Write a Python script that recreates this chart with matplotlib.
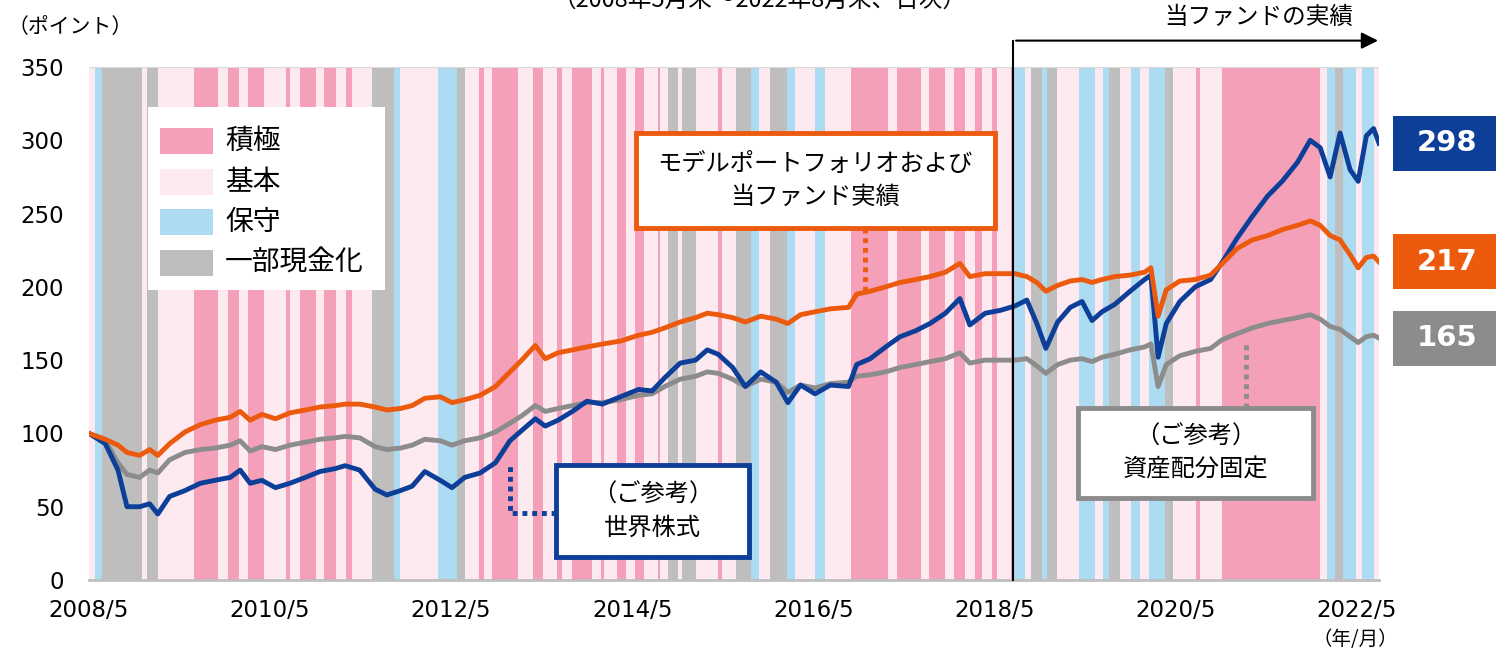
import matplotlib
matplotlib.use("Agg")
import matplotlib.pyplot as plt
from matplotlib.patches import Rectangle
import matplotlib.transforms as mtransforms

plt.rcParams['font.family'] = ['Noto Sans CJK JP', 'DejaVu Sans']

# regime bands (decimal years), one kind per segment
band_edges = [2008.41, 2008.48, 2008.55, 2008.99, 2009.05, 2009.17, 2009.57, 2009.84, 2009.95, 2010.07,
              2010.17, 2010.34, 2010.59, 2010.63, 2010.74, 2010.92, 2011.01, 2011.14, 2011.25, 2011.32,
              2011.54, 2011.78, 2011.85, 2012.27, 2012.47, 2012.56, 2012.72, 2012.77, 2012.86, 2013.15,
              2013.31, 2013.42, 2013.58, 2013.64, 2013.74, 2013.97, 2014.07, 2014.10, 2014.24, 2014.34,
              2014.44, 2014.54, 2014.69, 2014.72, 2014.81, 2014.92, 2014.96, 2015.11, 2015.36, 2015.40,
              2015.56, 2015.72, 2015.81, 2015.93, 2016.12, 2016.21, 2016.43, 2016.54, 2016.83, 2017.24,
              2017.34, 2017.60, 2017.69, 2017.87, 2017.97, 2018.09, 2018.20, 2018.27, 2018.38, 2018.44,
              2018.60, 2018.62, 2018.75, 2018.82, 2018.94, 2018.99, 2019.10, 2019.35, 2019.52, 2019.61,
              2019.68, 2019.80, 2019.92, 2020.02, 2020.12, 2020.30, 2020.38, 2020.64, 2020.68, 2020.93,
              2022.01, 2022.09, 2022.17, 2022.26, 2022.41, 2022.47, 2022.61, 2022.66]
band_kinds = ("L B G L G L P L P L "
              "P L P L P L P L P L "
              "G B L B G L P L P L "
              "P L P L P L P L P L "
              "P L P L G L G L P L "
              "G B L G B L B L P L "
              "P L P L P L P L P L "
              "P B L G B G L B L B "
              "G L B L B G L P L P "
              "L B G B L B L").split()

legend_labels = ["積極", "基本", "保守", "一部現金化"]
legend_kinds = ["P", "L", "B", "G"]
band_colors = {"P": "#F4A0B8", "L": "#FDEAF1", "B": "#ADDBF1", "G": "#BEBEBE"}

dates = [2008.41, 2008.59, 2008.73, 2008.83, 2008.97, 2009.08, 2009.17, 2009.30, 2009.47, 2009.64,
         2009.80, 2009.97, 2010.08, 2010.19, 2010.32, 2010.47, 2010.63, 2010.80, 2010.96, 2011.13,
         2011.24, 2011.40, 2011.57, 2011.70, 2011.85, 2011.98, 2012.12, 2012.29, 2012.42, 2012.56,
         2012.73, 2012.90, 2013.06, 2013.19, 2013.34, 2013.45, 2013.59, 2013.75, 2013.91, 2014.08,
         2014.28, 2014.48, 2014.63, 2014.77, 2014.94, 2015.11, 2015.24, 2015.36, 2015.52, 2015.66,
         2015.83, 2016.00, 2016.13, 2016.27, 2016.43, 2016.60, 2016.80, 2016.89, 2017.04, 2017.21,
         2017.37, 2017.54, 2017.70, 2017.87, 2018.03, 2018.14, 2018.31, 2018.48, 2018.64, 2018.77,
         2018.88, 2018.98, 2019.11, 2019.25, 2019.38, 2019.49, 2019.60, 2019.74, 2019.91, 2020.07,
         2020.14, 2020.22, 2020.31, 2020.46, 2020.63, 2020.80, 2020.93, 2021.09, 2021.26, 2021.43,
         2021.59, 2021.76, 2021.90, 2022.01, 2022.12, 2022.23, 2022.34, 2022.43, 2022.52, 2022.60,
         2022.66]

world = [100, 93, 75, 50, 50, 52, 45, 57, 61, 66,
         68, 70, 75, 66, 68, 63, 66, 70, 74, 76,
         78, 75, 62, 58, 61, 64, 74, 68, 63, 70,
         73, 80, 95, 102, 110, 105, 109, 115, 122, 120,
         125, 130, 129, 138, 148, 150, 157, 154, 145, 132,
         142, 135, 121, 133, 127, 133, 132, 147, 151, 159,
         166, 170, 175, 182, 192, 174, 182, 184, 187, 191,
         175, 158, 176, 186, 190, 177, 183, 188, 197, 205,
         208, 152, 175, 190, 200, 205, 217, 233, 248, 262,
         272, 285, 300, 295, 275, 305, 280, 272, 303, 308,
         298]

model = [100, 96, 92, 87, 85, 89, 85, 93, 101, 106,
         109, 111, 115, 109, 113, 110, 114, 116, 118, 119,
         120, 120, 118, 116, 117, 119, 124, 125, 121, 123,
         126, 132, 142, 150, 160, 151, 155, 157, 159, 161,
         163, 167, 169, 172, 176, 179, 182, 181, 179, 176,
         180, 178, 175, 181, 183, 185, 186, 195, 197, 200,
         203, 205, 207, 210, 216, 207, 209, 209, 209, 207,
         203, 197, 201, 204, 205, 203, 205, 207, 208, 210,
         213, 180, 198, 204, 205, 208, 216, 226, 232, 235,
         239, 242, 245, 242, 235, 232, 222, 213, 220, 221,
         217]

fixed = [100, 95, 80, 72, 70, 75, 73, 82, 87, 89,
         90, 92, 95, 88, 91, 89, 92, 94, 96, 97,
         98, 97, 91, 89, 90, 92, 96, 95, 92, 95,
         97, 101, 107, 112, 119, 115, 117, 119, 121, 121,
         123, 126, 127, 132, 137, 139, 142, 141, 137, 132,
         137, 135, 128, 133, 131, 134, 135, 139, 140, 142,
         145, 147, 149, 151, 155, 148, 150, 150, 150, 151,
         146, 141, 147, 150, 151, 149, 152, 154, 157, 159,
         161, 132, 147, 153, 156, 158, 164, 168, 172, 175,
         177, 179, 181, 178, 173, 171, 166, 162, 166, 167,
         165]

tick_pos = [2008.41, 2010.41, 2012.41, 2014.41, 2016.41, 2018.41, 2020.41, 2022.41]
tick_labels = ["2008/5", "2010/5", "2012/5", "2014/5", "2016/5", "2018/5", "2020/5", "2022/5"]
fund_start = 2018.62

c_blue = "#0D3F98"
c_orange = "#EC5A0D"
c_grey = "#8C8C8C"

fig = plt.figure(figsize=(14.96, 6.57), dpi=100)
ax = fig.add_axes([89 / 1496, 77 / 657, 1290 / 1496, 513 / 657])

for x0, x1, k in zip(band_edges[:-1], band_edges[1:], band_kinds):
    ax.axvspan(x0, x1, color=band_colors[k], lw=0, zorder=0)

ax.axhline(350, color="#D9D9D9", lw=1.5, zorder=1)

ax.plot(dates, fixed, color=c_grey, lw=3.5, zorder=3, solid_joinstyle="round")
ax.plot(dates, world, color=c_blue, lw=3.5, zorder=4, solid_joinstyle="round")
ax.plot(dates, model, color=c_orange, lw=3.5, zorder=5, solid_joinstyle="round")

ax.set_xlim(band_edges[0], band_edges[-1])
ax.set_ylim(0, 350)
ax.set_yticks(range(0, 351, 50))
ax.set_xticks(tick_pos)
ax.set_xticklabels(tick_labels)
ax.tick_params(axis="both", length=0, labelsize=16.5)
ax.tick_params(axis="y", pad=18)
ax.tick_params(axis="x", pad=14)
for lab in ax.get_xticklabels() + ax.get_yticklabels():
    lab.set_family("DejaVu Sans")
for s in ["top", "left", "right"]:
    ax.spines[s].set_visible(False)
ax.spines["bottom"].set_color("#BFBFBF")
ax.spines["bottom"].set_linewidth(2)

# fund performance marker
ax.plot([fund_start, fund_start], [0, 368], color="black", lw=1.5, clip_on=False, zorder=6)
ax.annotate("", xy=(band_edges[-1] + 0.02, 368), xytext=(fund_start, 368),
            arrowprops=dict(arrowstyle="-|>", color="black", lw=1.5, mutation_scale=25),
            annotation_clip=False)
ax.text(2021.33, 384, "当ファンドの実績", ha="center", va="center", fontsize=17)

# legend box
ax.add_patch(Rectangle((0.0457, 0.565), 0.184, 0.357, transform=ax.transAxes,
                       facecolor="white", edgecolor="none", zorder=7))
row_y = [0.856, 0.776, 0.698, 0.618]
for lab, k, y in zip(legend_labels, legend_kinds, row_y):
    ax.add_patch(Rectangle((0.055, y - 0.026), 0.041, 0.052, transform=ax.transAxes,
                           facecolor=band_colors[k], edgecolor="none", zorder=8))
    ax.text(0.1054, y, lab, transform=ax.transAxes, ha="left", va="center",
            fontsize=20, zorder=8)

# annotation boxes
def note_box(x0, y0, w, h, txt, color, line_pts):
    ax.add_patch(Rectangle((x0, y0), w, h, transform=ax.transAxes, facecolor="white",
                           edgecolor=color, lw=3.5, zorder=9))
    ax.text(x0 + w / 2, y0 + h / 2, txt, transform=ax.transAxes, ha="center", va="center",
            fontsize=17.5, linespacing=1.35, zorder=10)
    xs, ys = zip(*line_pts)
    ax.plot(xs, ys, transform=ax.transAxes, color=color, lw=3.5, ls=(0, (1, 1)), zorder=9)

note_box(0.424, 0.686, 0.278, 0.185, "モデルポートフォリオおよび\n当ファンド実績", c_orange,
         [(0.6016, 0.686), (0.6016, 0.561)])
note_box(0.362, 0.045, 0.150, 0.179, "（ご参考）\n世界株式", c_blue,
         [(0.362, 0.131), (0.326, 0.131), (0.326, 0.230)])
note_box(0.767, 0.160, 0.182, 0.175, "（ご参考）\n資産配分固定", c_grey,
         [(0.897, 0.335), (0.897, 0.462)])

# end value labels
trans = mtransforms.blended_transform_factory(ax.transAxes, ax.transData)
for series, color in [(world, c_blue), (model, c_orange), (fixed, c_grey)]:
    v = series[-1]
    ax.add_patch(Rectangle((1.0109, v - 18.8), 0.09, 37.6, transform=trans, facecolor=color,
                           edgecolor="none", clip_on=False, zorder=9))
    ax.text(1.0525, v, f"{v}", transform=trans, ha="center", va="center", color="white",
            fontsize=21, fontweight="bold", family="DejaVu Sans", zorder=10)

fig.text(8 / 1496, 1 - 27 / 657, "（ポイント）", ha="left", va="center", fontsize=15)
fig.text(1355 / 1496, 1 - 640 / 657, "（年/月）", ha="center", va="center", fontsize=14)
fig.text(760 / 1496, 1.0, "（2008年5月末～2022年8月末、日次）", ha="center", va="center", fontsize=17)

fig.savefig("out.png", dpi=100)
